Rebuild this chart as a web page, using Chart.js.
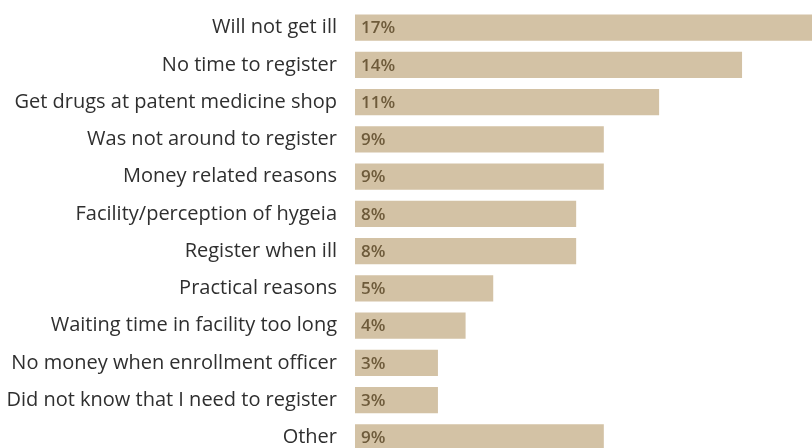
<!DOCTYPE html>
<html>
<head>
<meta charset="utf-8">
<script src="https://cdn.jsdelivr.net/npm/chart.js@4"></script>
<style>
  html, body { margin: 0; padding: 0; background: #fff; overflow: hidden; }
  #wrap { position: relative; width: 812px; height: 456px; }
</style>
</head>
<body>
<div id="wrap"><canvas id="reasons-chart"></canvas></div>
<script>
// reasons for not registering, share of respondents (%)
const reasons = [
  'Will not get ill',
  'No time to register',
  'Get drugs at patent medicine shop',
  'Was not around to register',
  'Money related reasons',
  'Facility/perception of hygeia',
  'Register when ill',
  'Practical reasons',
  'Waiting time in facility too long',
  'No money when enrollment officer',
  'Did not know that I need to register',
  'Other'
];
const shares = [17, 14, 11, 9, 9, 8, 8, 5, 4, 3, 3, 9];

const BAR_COLOR = '#d3c2a5';
const VALUE_COLOR = '#6e5b3b';
const LABEL_COLOR = '#2f2f2f';

// value text drawn at the start of each bar
const barValues = {
  id: 'barValues',
  afterDatasetsDraw(chart) {
    const ctx = chart.ctx;
    const meta = chart.getDatasetMeta(0);
    ctx.save();
    ctx.font = '600 17px "Open Sans", sans-serif';
    ctx.fillStyle = VALUE_COLOR;
    ctx.textAlign = 'left';
    ctx.textBaseline = 'middle';
    meta.data.forEach((bar, i) => {
      ctx.fillText(shares[i] + '%', bar.base + 6, bar.y + 1);
    });
    ctx.restore();
  }
};

const ctxBars = document.getElementById('reasons-chart');

new Chart(ctxBars, {
  type: 'bar',
  data: {
    labels: reasons,
    datasets: [{
      data: shares,
      backgroundColor: BAR_COLOR,
      borderWidth: 0,
      categoryPercentage: 1,
      barPercentage: 0.71
    }]
  },
  plugins: [barValues],
  options: {
    indexAxis: 'y',
    responsive: true,
    maintainAspectRatio: false,
    animation: false,
    layout: { padding: { top: 9, right: 0, bottom: 0, left: 0 } },
    plugins: {
      legend: { display: false },
      tooltip: { enabled: false }
    },
    scales: {
      x: {
        display: false,
        min: 0,
        max: 16.53
      },
      y: {
        afterFit: (scale) => {
          scale.width = 355;
          scale.paddingTop = 0;
          scale.paddingBottom = 0;
        },
        grid: { display: false, drawTicks: false },
        border: { display: false },
        ticks: {
          color: LABEL_COLOR,
          padding: 18,
          autoSkip: false,
          font: { family: '"Open Sans", sans-serif', size: 20 }
        }
      }
    }
  }
});
</script>
</body>
</html>
